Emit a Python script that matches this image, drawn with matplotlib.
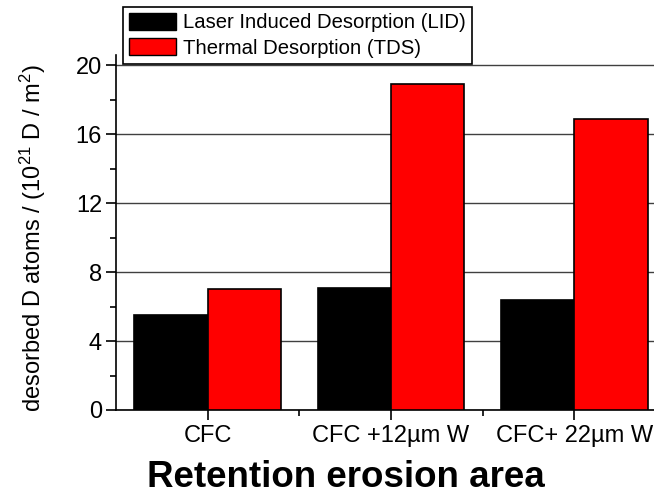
import numpy as np
import matplotlib
matplotlib.use('Agg')
import matplotlib.pyplot as plt
from matplotlib.patches import Patch

plt.rcParams['font.family'] = ['Liberation Sans', 'DejaVu Sans']
plt.rcParams['mathtext.fontset'] = 'custom'
plt.rcParams['mathtext.rm'] = 'Liberation Sans'
plt.rcParams['mathtext.it'] = 'Liberation Sans:italic'

# data
categories = ['CFC', 'CFC +12\u00b5m W', 'CFC+ 22\u00b5m W']
lid = [5.5, 7.1, 6.4]     # Laser Induced Desorption
tds = [7.0, 18.9, 16.9]   # Thermal Desorption
yticks = [0, 4, 8, 12, 16, 20]

fig = plt.figure(figsize=(6.54, 4.96), dpi=100)
# the original is cropped on the right, so the axes run past the figure edge
ax = fig.add_axes([116/654, 86/496, 550/654, 355/496])

x = np.arange(1, len(categories) + 1)
w = 0.4
ax.bar(x - w/2, lid, w, color='black', edgecolor='black', linewidth=1.2, zorder=3)
ax.bar(x + w/2, tds, w, color='red', edgecolor='black', linewidth=1.2, zorder=3)

ax.set_xlim(0.5, 3.5)
ax.set_ylim(0, 20.6)
ax.set_xticks(x)
ax.set_xticklabels(categories)
ax.set_xticks([1.5, 2.5], minor=True)
ax.set_yticks(yticks)
ax.set_yticks([2, 6, 10, 14, 18], minor=True)

ax.yaxis.grid(True, which='major', color='0.25', linewidth=1.0)
ax.set_axisbelow(True)

for s in ['top', 'right']:
    ax.spines[s].set_visible(False)
for s in ['left', 'bottom']:
    ax.spines[s].set_linewidth(1.2)

ax.tick_params(axis='both', which='major', direction='out', length=7, width=1.2,
               labelsize=17)
ax.tick_params(axis='both', which='minor', direction='out', length=4, width=1.2)
ax.tick_params(axis='x', which='major', pad=4)
ax.tick_params(axis='y', which='major', pad=3)

ax.set_ylabel('desorbed D atoms / (10$^{21}$ D / m$^{2}$)', fontsize=17)
ax.yaxis.set_label_coords(-0.124, 0.485)
ax.set_xlabel('Retention erosion area', fontsize=26.5, fontweight='bold', va='center')
ax.xaxis.set_label_coords(0.418, -0.19)

handles = [Patch(facecolor='black', edgecolor='black', label='Laser Induced Desorption (LID)'),
           Patch(facecolor='red', edgecolor='black', label='Thermal Desorption (TDS)')]
leg = fig.legend(handles=handles, loc='upper left', bbox_to_anchor=(123/654, 1 - 7/496),
                 bbox_transform=fig.transFigure, fontsize=14.6, fancybox=False,
                 edgecolor='black', framealpha=1, borderaxespad=0, borderpad=0.3,
                 handlelength=2.3, handleheight=0.9, handletextpad=0.35,
                 labelspacing=0.28)
leg.get_frame().set_linewidth(1.2)

fig.savefig('out.png', dpi=100)
